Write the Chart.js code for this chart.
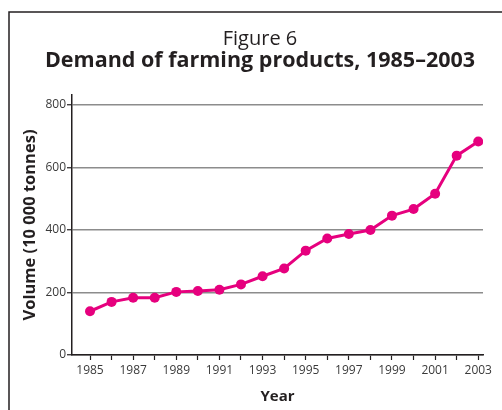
<!DOCTYPE html>
<html>
<head>
<meta charset="utf-8">
<script src="https://cdn.jsdelivr.net/npm/chart.js@4/dist/chart.umd.min.js"></script>
<style>
  html, body { margin: 0; padding: 0; background: #fff; }
  #wrap { position: relative; width: 502px; height: 410px; }
</style>
</head>
<body>
<div id="wrap"><canvas id="chartDemand"></canvas></div>
<script>
const years = [1985, 1986, 1987, 1988, 1989, 1990, 1991, 1992, 1993, 1994,
               1995, 1996, 1997, 1998, 1999, 2000, 2001, 2002, 2003];
const volume = [140, 170, 183, 183, 202, 205, 209, 226, 252, 277,
                334, 373, 387, 400, 446, 467, 516, 638, 683];
const yTicks = [0, 200, 400, 600, 800];

const titleLine = 'Figure 6';
const subtitleLine = 'Demand of farming products, 1985–2003';

const FONT = "'Open Sans', 'Noto Sans', sans-serif";
const PINK = '#e6007e';

// frame (left + top rule) and the two heading lines
const framePlugin = {
  id: 'frame',
  beforeDraw(chart) {
    const ctx = chart.ctx;
    ctx.save();
    ctx.strokeStyle = '#231f20';
    ctx.lineWidth = 1.5;
    ctx.beginPath();
    ctx.moveTo(9, 410);
    ctx.lineTo(9, 12);
    ctx.lineTo(502, 12);
    ctx.stroke();

    ctx.fillStyle = '#231f20';
    ctx.textAlign = 'center';
    ctx.textBaseline = 'alphabetic';
    ctx.font = `20px ${FONT}`;
    ctx.fillText(titleLine, 260, 45);
    ctx.font = `bold 21.5px ${FONT}`;
    ctx.fillText(subtitleLine, 260, 67);
    ctx.restore();
  }
};

const ctx = document.getElementById('chartDemand');

new Chart(ctx, {
  type: 'line',
  data: {
    datasets: [{
      label: 'Volume',
      data: years.map((y, i) => ({ x: y, y: volume[i] })),
      borderColor: PINK,
      backgroundColor: PINK,
      borderWidth: 3,
      pointRadius: 5,
      pointBorderWidth: 0,
      tension: 0
    }]
  },
  options: {
    responsive: true,
    maintainAspectRatio: false,
    animation: false,
    layout: { padding: { top: 95, right: 19, bottom: 0, left: 0 } },
    plugins: {
      legend: { display: false },
      tooltip: { enabled: false }
    },
    scales: {
      x: {
        type: 'linear',
        min: 1984.165,
        max: 2003.22,
        afterBuildTicks: s => { s.ticks = years.map(v => ({ value: v })); },
        afterFit: s => { s.height = 55; },
        ticks: {
          autoSkip: false,
          maxRotation: 0,
          padding: 3,
          color: '#3a3a3a',
          font: { family: FONT, size: 12 },
          callback: v => (v % 2 === 1 ? String(v) : '')
        },
        grid: {
          drawOnChartArea: false,
          drawTicks: true,
          tickLength: 5,
          tickColor: '#231f20',
          tickWidth: 1.2
        },
        border: { color: '#231f20', width: 1.5 },
        title: {
          display: true,
          text: 'Year',
          color: '#231f20',
          font: { family: FONT, size: 15, weight: 'bold' },
          padding: { top: 0, bottom: 4 }
        }
      },
      y: {
        min: 0,
        max: 832,
        afterBuildTicks: s => { s.ticks = yTicks.map(v => ({ value: v })); },
        afterFit: s => { s.width = 72; },
        ticks: {
          padding: 1,
          color: '#3a3a3a',
          font: { family: FONT, size: 12 }
        },
        grid: {
          color: '#8c8c8c',
          lineWidth: 1.5,
          tickLength: 5,
          tickColor: '#231f20',
          tickWidth: 1.2
        },
        border: { color: '#231f20', width: 1.5 },
        title: {
          display: true,
          text: 'Volume (10 000 tonnes)',
          color: '#231f20',
          font: { family: FONT, size: 16.5, weight: 'bold' },
          padding: { top: 20, bottom: 0 }
        }
      }
    }
  },
  plugins: [framePlugin]
});
</script>
</body>
</html>
